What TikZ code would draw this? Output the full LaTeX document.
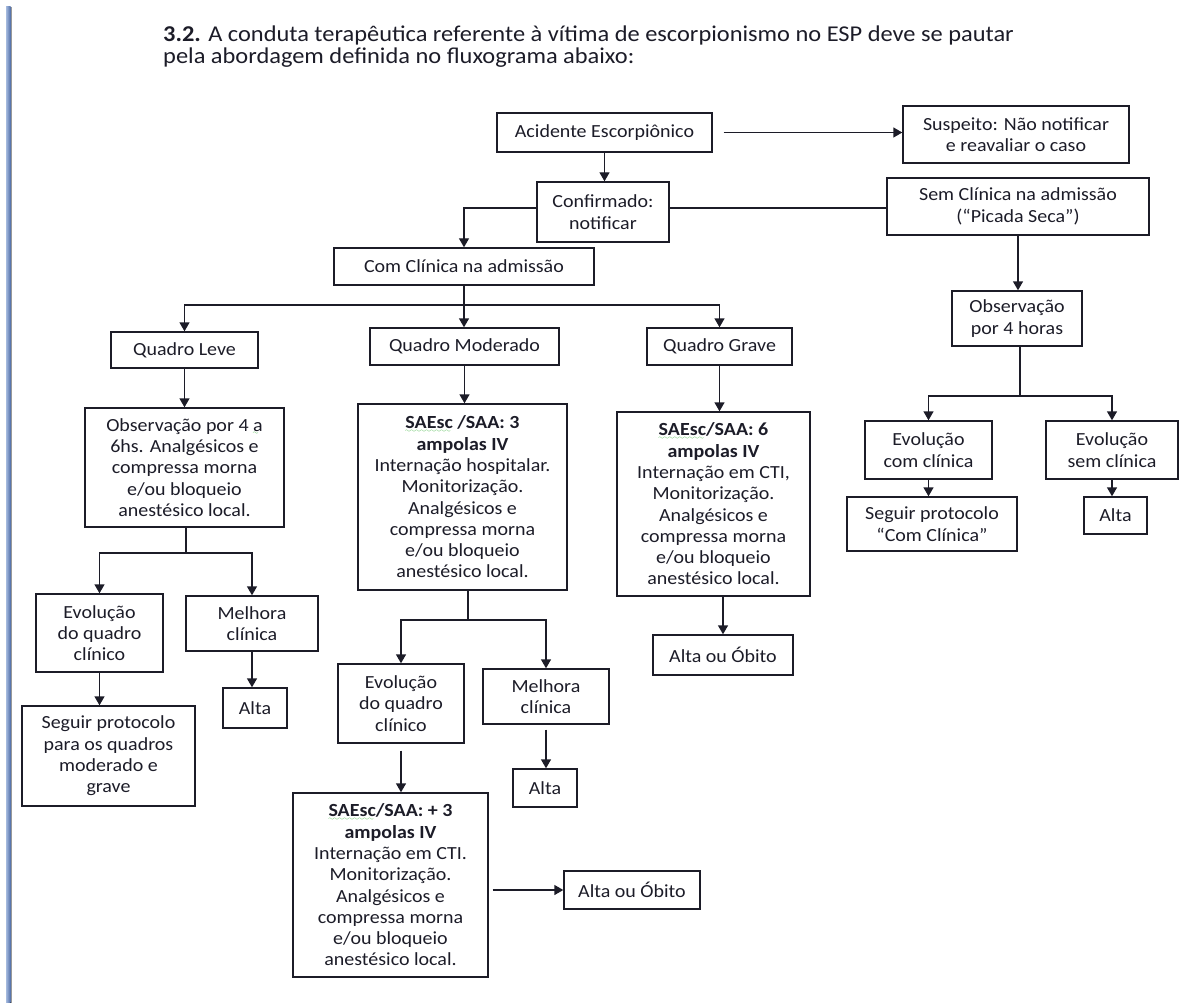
\documentclass[tikz,border=0pt]{standalone}
\usepackage{fontspec}
\setmainfont{Carlito}[FakeStretch=1.08]
\usetikzlibrary{arrows.meta}

\definecolor{ink}{RGB}{28,28,40}
\definecolor{spell}{RGB}{50,175,50}
\definecolor{barA}{RGB}{165,186,222}
\definecolor{barB}{RGB}{80,110,168}

% green squiggle under a word (spell-check mark)
\font\wavefont=lasy6
\newcommand\gwave[1]{\setbox0\hbox{#1}\rlap{\textcolor{spell}{\lower3.2pt\hbox to\wd0{\leaders\hbox{\wavefont\char58}\hfil}}}#1}

\begin{document}
\begin{tikzpicture}[x=1pt,y=-1pt,
  box/.style={draw=ink, line width=1.4pt, align=center, inner sep=0pt,
    text=ink, font=\fontsize{18.5}{21.3}\selectfont},
  sz/.style 2 args={minimum width=#1pt, minimum height=#2pt},
  line/.style={draw=ink, line width=1.4pt},
  arr/.style={line, -{Triangle[width=10pt,length=9pt]}},
  head/.style={anchor=base west, inner sep=0pt, text=ink,
    font=\fontsize{22.6}{23}\selectfont}]
\useasboundingbox (0,0) rectangle (1186,1003);

% page margin bar
\fill[left color=barA, right color=barB] (6,7) rectangle (10.5,1003);
\draw[gray!80, line width=1.2pt] (11.4,7) -- (11.4,1003);

% heading
\node[head] (h1) at (163,42) {\textbf{3.2.} A conduta terapêutica referente à vítima de escorpionismo no ESP deve se pautar};
\node[head] (h2) at (163,64) {pela abordagem definida no fluxograma abaixo:};

% top of the flow
\node[box, sz={215}{39}] (ac) at (604.5,132.5) {Acidente Escorpiônico};
\node[box, sz={226}{57}] (susp) at (1016,134.5) {Suspeito: Não notificar\\e reavaliar o caso};
\node[box, sz={132}{60}] (conf) at (603,212) {Confirmado:\\notificar};
\node[box, sz={262}{57}] (sem) at (1018,206.5) {Sem Clínica na admissão\\(“Picada Seca”)};
\node[box, sz={260}{37}] (com) at (464,266.5) {Com Clínica na admissão};

% dry sting branch
\node[box, sz={130}{55}] (obs4) at (1017,318.5) {Observação\\por 4 horas};
\node[box, sz={127}{58}] (evcom) at (928.5,450) {Evolução\\com clínica};
\node[box, sz={132}{58}] (evsem) at (1112,450) {Evolução\\sem clínica};
\node[box, sz={170}{54}] (segcom) at (932,524) {Seguir protocolo\\“Com Clínica”};
\node[box, sz={63}{37}] (altaR) at (1115.5,515.5) {Alta};

% severity levels
\node[box, sz={147}{36}] (leve) at (184.5,350) {Quadro Leve};
\node[box, sz={189}{37}] (mod) at (464.5,346.5) {Quadro Moderado};
\node[box, sz={145}{37}] (grave) at (719.5,346.5) {Quadro Grave};

% mild
\node[box, sz={199}{119}] (obsL) at (184.5,467.5) {Observação por 4 \gwave{a}\\6hs. Analgésicos e\\compressa morna\\e/ou bloqueio\\anestésico local.};
\node[box, sz={127}{78}] (evL) at (99.5,633) {Evolução\\do quadro\\clínico};
\node[box, sz={132}{55}] (melL) at (252,623.5) {Melhora\\clínica};
\node[box, sz={173}{100}] (segL) at (108.5,756) {Seguir protocolo\\para os quadros\\moderado e\\grave};
\node[box, sz={64}{40}] (altaL) at (255,708) {Alta};

% moderate
\node[box, sz={209}{186}] (modS) at (462.5,497) {\textbf{\gwave{SAEsc} /SAA: 3}\\\textbf{ampolas IV}\\Internação hospitalar.\\Monitorização.\\Analgésicos e\\compressa morna\\e/ou bloqueio\\anestésico local.};
\node[box, sz={126}{79}] (evM) at (401,703.5) {Evolução\\do quadro\\clínico};
\node[box, sz={126}{55}] (melM) at (546,696.5) {Melhora\\clínica};
\node[box, sz={64}{38}] (altaM) at (545,788) {Alta};
\node[box, sz={195}{184}] (sae3) at (390.5,885) {\textbf{\gwave{SAEsc}/SAA: + 3}\\\textbf{ampolas IV}\\Internação em CTI.\\Monitorização.\\Analgésicos e\\compressa morna\\e/ou bloqueio\\anestésico local.};
\node[box, sz={136}{38}] (obM) at (632,890) {Alta ou Óbito};

% severe
\node[box, sz={193}{184}] (graveS) at (713.5,504) {\textbf{\gwave{SAEsc}/SAA: 6}\\\textbf{ampolas IV}\\Internação em CTI,\\Monitorização.\\Analgésicos e\\compressa morna\\e/ou bloqueio\\anestésico local.};
\node[box, sz={140}{40}] (obG) at (723,655) {Alta ou Óbito};

% junction points of the branching connectors
\coordinate (jCom) at (464,305);
\coordinate (jL) at (186,553);
\coordinate (jM) at (468,620);
\coordinate (jR) at (1020,396);

% connectors
\draw[arr, shorten <=11pt] (ac.east) -- (ac.east -| susp.west);
\draw[arr] (ac.south) -- (ac.south |- conf.north);
\draw[arr] ([yshift=4pt]conf.west) -| (com.north);
\draw[line] ([yshift=4pt]conf.east) -- ([yshift=4pt]conf.east -| sem.west);
\draw[arr] (sem.south) -- (sem.south |- obs4.north);
\draw[line] (jR |- obs4.south) -- (jR);
\draw[arr] (jR) -| (evcom.north);
\draw[arr] (jR) -| (evsem.north);
\draw[arr] (evcom.south) -- (evcom.south |- segcom.north);
\draw[arr] (evsem.south) -- (evsem.south |- altaR.north);

\draw[line] (com.south) -- (jCom);
\draw[arr] (jCom) -- (jCom |- mod.north);
\draw[arr] (jCom) -| (leve.north);
\draw[arr] (jCom) -| (grave.north);

\draw[arr] (leve.south) -- (leve.south |- obsL.north);
\draw[line] (jL |- obsL.south) -- (jL);
\draw[arr] (jL) -| (evL.north);
\draw[arr] (jL) -| (melL.north);
\draw[arr] (evL.south) -- (evL.south |- segL.north);
\draw[arr] (melL.south) -- (melL.south |- altaL.north);

\draw[arr] (mod.south) -- (mod.south |- modS.north);
\draw[line] (jM |- modS.south) -- (jM);
\draw[arr] (jM) -| (evM.north);
\draw[arr] (jM) -| (melM.north);
\draw[arr, shorten <=7pt] (evM.south) -- (evM.south |- sae3.north);
\draw[arr, shorten <=5pt] (melM.south) -- (melM.south |- altaM.north);
\draw[arr, shorten <=4pt] (sae3.east |- obM.west) -- (obM.west);

\draw[arr] (grave.south) -- (grave.south |- graveS.north);
\draw[arr] (obG.north |- graveS.south) -- (obG.north);
\end{tikzpicture}
\end{document}
